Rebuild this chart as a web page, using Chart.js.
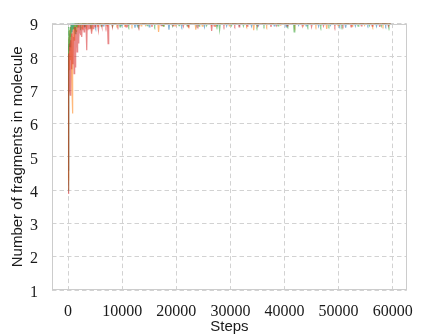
<!DOCTYPE html>
<html>
<head>
<meta charset="utf-8">
<script src="https://cdn.jsdelivr.net/npm/chart.js@4.4.0/dist/chart.umd.min.js"></script>
<style>
  html, body { margin: 0; padding: 0; background: #fff; }
  #wrap { width: 425px; height: 336px; }
</style>
</head>
<body>
<div id="wrap"><canvas id="chart" width="425" height="336"></canvas></div>
<script>
// Steps / number of fragments, one [step, value] list per run
const xTicks = [0, 10000, 20000, 30000, 40000, 50000, 60000];
const yTicks = [1, 2, 3, 4, 5, 6, 7, 8, 9];

const bluePoints = [
  [0,4.6],[60,7.6],[130,8.4],[215,8.2],[290,8.7],[360,8.3],[440,8.9],[520,8.6],[600,9],[700,8.75],
  [800,9],[950,8.85],[1050,9],[1500,9],[1600,8.9],[1700,9],[2900,9],[3000,8.9],[3100,9],[5000,9],
  [5100,8.92],[5200,9],[6380,9],[6500,8.93],[6620,9],[9680,9],[9800,8.94],[9920,9],
  [12240,9],[12360,8.88],[12480,9],[12680,9],[12800,8.93],[12920,9],[14880,9],[15000,8.9],[15120,9],
  [17280,9],[17400,8.95],[17520,9],[18520,9],[18640,8.82],[18760,9],[20880,9],[21000,8.93],[21120,9],
  [23680,9],[23800,8.95],[23920,9],[25080,9],[25200,8.9],[25320,9],[27480,9],[27600,8.94],[27720,9],
  [29180,9],[29300,8.93],[29420,9],[31580,9],[31700,8.95],[31820,9],[33780,9],[33900,8.92],[34020,9],
  [35080,9],[35200,8.94],[35320,9],[37980,9],[38100,8.93],[38220,9],[40180,9],[40300,8.9],[40420,9],
  [42480,9],[42600,8.95],[42720,9],[43880,9],[44000,8.93],[44120,9],[46180,9],[46300,8.92],[46420,9],
  [48380,9],[48500,8.95],[48620,9],[50080,9],[50200,8.94],[50320,9],[51180,9],[51300,8.88],[51420,9],
  [52980,9],[53100,8.93],[53220,9],[55280,9],[55400,8.95],[55520,9],[56880,9],[57000,8.92],[57120,9],
  [58580,9],[58700,8.94],[58820,9],[59600,9]
];

const orangePoints = [
  [0,4.3],[50,6.8],[110,7.9],[170,8.6],[230,7.6],[300,8.8],[370,8.2],[440,8.9],[520,7.9],[590,8.7],
  [660,7.4],[730,6.9],[807,6.3],[870,7.5],[940,8.6],[1010,8.9],[1100,8.5],[1200,9],[1300,8.8],[1400,9],
  [1550,8.75],[1650,9],[1900,8.9],[2000,9],[2500,9],[2600,8.85],[2700,9],[3300,9],[3400,8.9],[3500,9],
  [4300,9],[4400,8.92],[4500,9],[5400,9],[5500,8.9],[5600,9],[7100,9],[7200,8.93],[7300,9],
  [8880,9],[9000,8.95],[9120,9],[10380,9],[10500,8.9],[10620,9],[11680,9],[11800,8.94],[11920,9],
  [13380,9],[13500,8.93],[13620,9],[14180,9],[14300,8.95],[14420,9],[16600,9],[16720,8.75],[16840,9],
  [17480,9],[17600,8.93],[17720,9],[19680,9],[19800,8.93],[19920,9],[22180,9],[22300,8.94],[22420,9],
  [23480,9],[23600,8.82],[23720,9],[24680,9],[24800,8.92],[24920,9],[26380,9],[26500,8.95],[26620,9],
  [27180,9],[27300,8.9],[27420,9],[29680,9],[29800,8.93],[29920,9],[32880,9],[33000,8.94],[33120,9],
  [34180,9],[34300,8.8],[34420,9],[36580,9],[36700,8.93],[36820,9],[39080,9],[39200,8.95],[39320,9],
  [41780,9],[41900,8.92],[42020,9],[43380,9],[43500,8.94],[43620,9],[45680,9],[45800,8.93],[45920,9],
  [47680,9],[47800,8.84],[47920,9],[49780,9],[49900,8.94],[50020,9],[52380,9],[52500,8.92],[52620,9],
  [54680,9],[54800,8.95],[54920,9],[56180,9],[56300,8.93],[56420,9],[58080,9],[58200,8.94],[58320,9],
  [59600,9]
];

const greenPoints = [
  [0,4.0],[30,7.8],[80,8.6],[140,8.9],[200,8.5],[260,8.8],[330,8.3],[400,8.9],[470,8.6],[550,9],
  [640,8.7],[720,9],[850,8.8],[950,9],[1100,8.85],[1200,9],[1350,8.7],[1450,9],[1700,8.9],[1800,9],
  [2200,9],[2300,8.8],[2400,9],[3000,9],[3100,8.9],[3200,9],[4100,9],[4200,8.85],[4300,9],
  [6000,9],[6100,8.92],[6200,9],[8080,9],[8200,8.92],[8320,9],[9480,9],[9600,8.9],[9720,9],
  [11080,9],[11200,8.93],[11320,9],[12880,9],[13000,8.9],[13120,9],[14480,9],[14600,8.94],[14720,9],
  [15880,9],[16000,8.93],[16120,9],[17480,9],[17600,8.92],[17720,9],[19180,9],[19300,8.93],[19420,9],
  [20380,9],[20500,8.94],[20620,9],[21880,9],[22000,8.93],[22120,9],[24080,9],[24200,8.92],[24320,9],
  [25480,9],[25600,8.94],[25720,9],[27380,9],[27500,8.93],[27620,9],[27880,9],[28000,8.82],[28120,9],
  [30080,9],[30200,8.94],[30320,9],[32280,9],[32400,8.93],[32520,9],[34780,9],[34900,8.92],[35020,9],
  [36080,9],[36200,8.94],[36320,9],[38680,9],[38800,8.93],[38920,9],[40480,9],[40600,8.94],[40720,9],
  [41660,9],[41780,8.75],[41900,9],[44180,9],[44300,8.93],[44420,9],[46580,9],[46700,8.92],[46820,9],
  [48080,9],[48200,8.94],[48320,9],[50480,9],[50600,8.93],[50720,9],[53480,9],[53600,8.92],[53720,9],
  [55580,9],[55700,8.94],[55820,9],[57780,9],[57900,8.93],[58020,9],[59180,9],[59300,8.92],[59420,9],
  [59600,9]
];

const redPoints = [
  [0,3.9],[40,5.6],[90,7.3],[150,8.1],[210,7.2],[270,8.4],[330,7.0],[390,6.85],[450,7.9],[510,8.5],
  [570,7.65],[640,8.3],[700,8.7],[770,7.8],[840,8.5],[900,8.8],[960,7.9],[1030,8.6],[1110,7.5],[1180,8.5],
  [1240,8.9],[1290,7.7],[1360,8.6],[1430,8.9],[1500,8.3],[1570,8.8],[1650,8.15],[1720,8.9],[1800,8.6],[1870,9],
  [1950,8.4],[2000,8.55],[2080,8.9],[2150,8.7],[2230,9],[2320,8.65],[2400,8.9],[2480,8.8],[2550,8.6],[2630,9],
  [2750,8.8],[2850,9],[2950,8.75],[3050,9],[3200,8.85],[3300,9],[3440,8.2],[3520,9],[3650,8.8],[3750,9],
  [3900,8.85],[4000,9],[4200,8.9],[4340,8.7],[4450,9],[4650,8.85],[4750,9],[5000,8.9],[5100,9],[5450,9],
  [5600,8.8],[5720,9],[6100,9],[6250,8.9],[6350,9],[6900,9],[7000,8.92],[7100,9],[7280,9],[7390,8.4],
  [7500,9],[8100,9],[8200,8.9],[8300,9],[9080,9],[9200,8.93],[9320,9],[10580,9],[10700,8.9],[10820,9],
  [10880,9],[11000,8.94],[11120,9],[12980,9],[13100,8.92],[13220,9],[15380,9],[15500,8.9],[15620,9],
  [17080,9],[17200,8.94],[17320,9],[19280,9],[19400,8.93],[19520,9],[21180,9],[21300,8.92],[21420,9],
  [22080,9],[22200,8.9],[22320,9],[23880,9],[24000,8.94],[24120,9],[26410,9],[26530,8.78],[26650,9],
  [26880,9],[27000,8.92],[27120,9],[28680,9],[28800,8.93],[28920,9],[30680,9],[30800,8.94],[30920,9],
  [31480,9],[31600,8.9],[31720,9],[32980,9],[33100,8.92],[33220,9],[34880,9],[35000,8.93],[35120,9],
  [37380,9],[37500,8.9],[37620,9],[38380,9],[38500,8.94],[38620,9],[40380,9],[40500,8.93],[40620,9],
  [43180,9],[43300,8.92],[43420,9],[44880,9],[45000,8.9],[45120,9],[47080,9],[47200,8.93],[47320,9],
  [49180,9],[49300,8.92],[49420,9],[50680,9],[50800,8.94],[50920,9],[52180,9],[52300,8.9],[52420,9],
  [54080,9],[54200,8.93],[54320,9],[56080,9],[56200,8.92],[56320,9],[57480,9],[57600,8.9],[57720,9],
  [59080,9],[59200,8.93],[59320,9],[59600,9]
];

function toXY(points) {
  return points.map(p => ({ x: p[0], y: p[1] }));
}

// matplotlib draws its axes frame above the lines
const framePlugin = {
  id: 'frame',
  afterDatasetsDraw(chart) {
    const a = chart.chartArea;
    const ctx = chart.ctx;
    ctx.save();
    ctx.strokeStyle = '#cccccc';
    ctx.lineWidth = 1;
    ctx.strokeRect(Math.round(a.left) + 0.5, Math.round(a.top) + 0.5,
      Math.round(a.right - a.left) - 1, Math.round(a.bottom - a.top) - 1);
    ctx.restore();
  }
};

const tickFont = { family: "'Liberation Serif', serif", size: 16 };
const titleFont = { family: "'Liberation Sans', sans-serif", size: 15 };

function line(label, points, color, order) {
  return {
    label: label,
    data: toXY(points),
    borderColor: color,
    borderWidth: 1.2,
    pointRadius: 0,
    tension: 0,
    fill: false,
    order: order,
    clip: 0
  };
}

new Chart(document.getElementById('chart'), {
  type: 'line',
  data: {
    datasets: [
      line('run 1', bluePoints, 'rgba(31, 119, 180, 0.55)', 4),
      line('run 2', orangePoints, 'rgba(255, 127, 14, 0.55)', 3),
      line('run 3', greenPoints, 'rgba(44, 160, 44, 0.55)', 2),
      line('run 4', redPoints, 'rgba(214, 39, 40, 0.55)', 1)
    ]
  },
  plugins: [framePlugin],
  options: {
    responsive: false,
    animation: false,
    devicePixelRatio: 1,
    layout: { padding: { top: 16, right: 7, left: 0, bottom: 0 } },
    plugins: {
      legend: { display: false },
      tooltip: { enabled: false }
    },
    scales: {
      x: {
        type: 'linear',
        min: -2980,
        max: 62600,
        afterBuildTicks: (axis) => { axis.ticks = xTicks.map(v => ({ value: v })); },
        afterFit: (axis) => { axis.height = 46; },
        border: { display: false, dash: [4.5, 3] },
        grid: { color: '#d2d2d2', lineWidth: 1, drawTicks: false },
        ticks: {
          font: tickFont,
          color: '#1a1a1a',
          padding: 12,
          maxRotation: 0,
          autoSkip: false,
          callback: (v) => String(v)
        },
        title: {
          display: true,
          text: 'Steps',
          font: titleFont,
          color: '#1a1a1a',
          padding: { top: 0, bottom: 0 }
        }
      },
      y: {
        min: 1,
        max: 9,
        afterBuildTicks: (axis) => { axis.ticks = yTicks.map(v => ({ value: v })); },
        afterFit: (axis) => { axis.width = 52; },
        border: { display: false, dash: [4.5, 3] },
        grid: { color: '#d2d2d2', lineWidth: 1, drawTicks: false },
        ticks: {
          font: tickFont,
          color: '#1a1a1a',
          padding: 14,
          labelOffset: 2.5,
          callback: (v) => String(v)
        },
        title: {
          display: true,
          text: 'Number of fragments in molecule',
          font: titleFont,
          color: '#1a1a1a',
          padding: { top: 9, bottom: 0 }
        }
      }
    }
  }
});
</script>
</body>
</html>
